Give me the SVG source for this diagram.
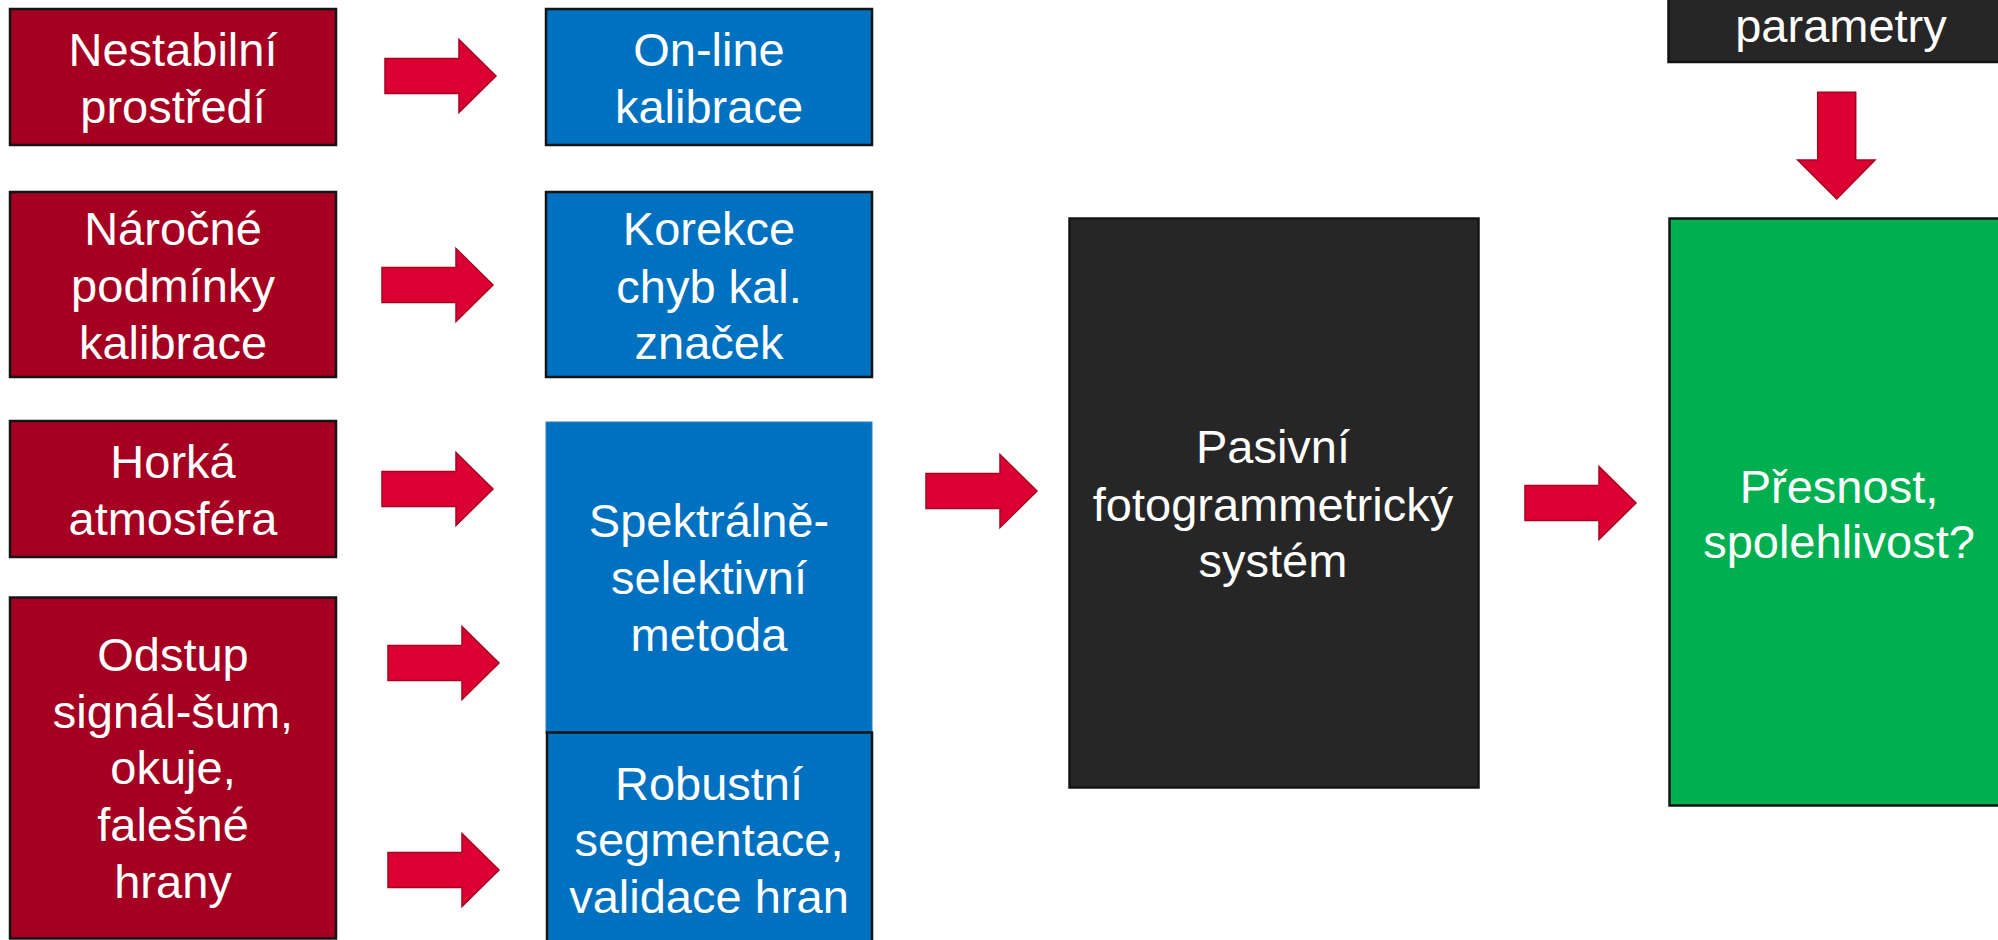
<svg xmlns="http://www.w3.org/2000/svg" width="1998" height="940" viewBox="0 0 1998 940">
  <style>
    .box { stroke: #141414; stroke-width: 2.5; }
    .red { fill: #A50021; }
    .blue { fill: #0070C0; }
    .dark { fill: #262626; }
    .green { fill: #00B050; }
    .label { font-family: "Liberation Sans", Arial, sans-serif; font-size: 47px; fill: #FFFFFF; text-anchor: middle; }
    .arrow { fill: #DC0032; stroke: #A8001F; stroke-width: 1.5; stroke-linejoin: miter; }
  </style>
  <defs>
    <!-- block arrow pointing right, origin at the middle of the tail -->
    <polygon id="blockArrow" points="0,-17.5 74,-17.5 74,-36.5 111,0 74,36.5 74,17.5 0,17.5"/>
  </defs>
  <rect width="1998" height="940" fill="#FFFFFF"/>

  <!-- causes (left column) -->
  <g id="nestabilni">
    <rect class="box red" x="10" y="9" width="326" height="136"/>
    <text class="label" x="173" y="65.7">Nestabilní</text>
    <text class="label" x="173" y="122.7">prostředí</text>
  </g>
  <g id="narocne">
    <rect class="box red" x="10" y="192" width="326" height="185"/>
    <text class="label" x="173" y="245">Náročné</text>
    <text class="label" x="173" y="302">podmínky</text>
    <text class="label" x="173" y="359">kalibrace</text>
  </g>
  <g id="horka">
    <rect class="box red" x="10" y="421" width="326" height="136"/>
    <text class="label" x="173" y="477.5">Horká</text>
    <text class="label" x="173" y="534.5">atmosféra</text>
  </g>
  <g id="odstup">
    <rect class="box red" x="10" y="597.5" width="326" height="341"/>
    <text class="label" x="173" y="671">Odstup</text>
    <text class="label" x="173" y="727.7">signál-šum,</text>
    <text class="label" x="173" y="784.3">okuje,</text>
    <text class="label" x="173" y="841.3">falešné</text>
    <text class="label" x="173" y="898.3">hrany</text>
  </g>

  <!-- methods (middle column) -->
  <g id="online">
    <rect class="box blue" x="546" y="9" width="326" height="136"/>
    <text class="label" x="709" y="65.7">On-line</text>
    <text class="label" x="709" y="122.7">kalibrace</text>
  </g>
  <g id="korekce">
    <rect class="box blue" x="546" y="192" width="326" height="185"/>
    <text class="label" x="709" y="245">Korekce</text>
    <text class="label" x="709" y="302.5">chyb kal.</text>
    <text class="label" x="709" y="359.3">značek</text>
  </g>
  <g id="spektralne">
    <rect class="blue" x="546" y="422" width="326" height="311" stroke="#2E7CC0" stroke-width="1"/>
    <text class="label" x="709" y="536.5">Spektrálně-</text>
    <text class="label" x="709" y="593.5">selektivní</text>
    <text class="label" x="709" y="650.5">metoda</text>
  </g>
  <g id="robustni">
    <rect class="box blue" x="547" y="732.5" width="325" height="230"/>
    <text class="label" x="709" y="800">Robustní</text>
    <text class="label" x="709" y="855.5">segmentace,</text>
    <text class="label" x="709" y="913">validace hran</text>
  </g>

  <!-- system and outcome -->
  <g id="system">
    <rect class="box dark" x="1069.5" y="218.5" width="409" height="569"/>
    <text class="label" x="1273" y="463.3">Pasivní</text>
    <text class="label" x="1273" y="521">fotogrammetrický</text>
    <text class="label" x="1273" y="576.7">systém</text>
  </g>
  <g id="parametry">
    <rect class="box dark" x="1668.5" y="-10" width="346" height="72"/>
    <text class="label" x="1841" y="41.7">parametry</text>
  </g>
  <g id="presnost">
    <rect class="box green" x="1669.5" y="218.5" width="344" height="587"/>
    <text class="label" x="1839" y="502.7">Přesnost,</text>
    <text class="label" x="1839" y="558.3">spolehlivost?</text>
  </g>

  <!-- connectors -->
  <g id="connectors">
    <use href="#blockArrow" class="arrow" transform="translate(385,76)"/>
    <use href="#blockArrow" class="arrow" transform="translate(382,285)"/>
    <use href="#blockArrow" class="arrow" transform="translate(382,489)"/>
    <use href="#blockArrow" class="arrow" transform="translate(388,663)"/>
    <use href="#blockArrow" class="arrow" transform="translate(388,870)"/>
    <use href="#blockArrow" class="arrow" transform="translate(926,491)"/>
    <use href="#blockArrow" class="arrow" transform="translate(1525,503)"/>
    <polygon class="arrow" points="1817.7,92.3 1855.7,92.3 1855.7,160 1875,160 1836.7,199 1797.7,160 1817.7,160"/>
  </g>
</svg>
